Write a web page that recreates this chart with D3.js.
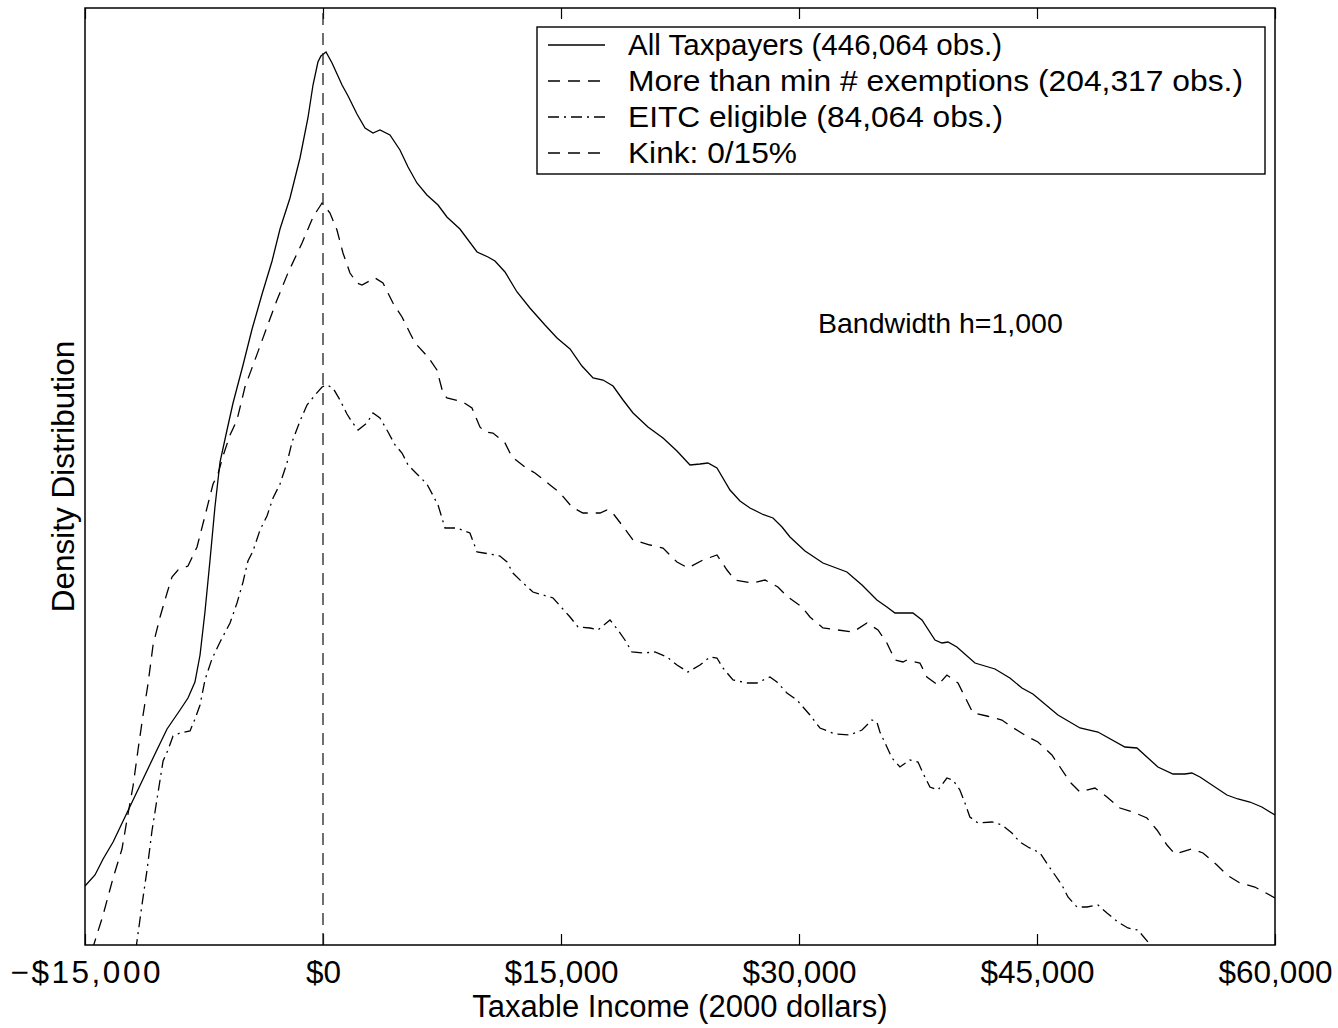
<!DOCTYPE html>
<html>
<head>
<meta charset="utf-8">
<script src="https://cdn.jsdelivr.net/npm/d3@7"></script>
<style>
  html, body { margin: 0; padding: 0; background: #fff; }
  svg { display: block; font-family: "Liberation Sans", Arial, Helvetica, sans-serif; }
</style>
</head>
<body>
<svg id="chart" width="1338" height="1028"></svg>
<script>
// ---- DATA (income in thousands of 2000 dollars, density in relative units) ----
const allIncome = [-15.0,-14.37,-13.86,-13.23,-12.60,-11.97,-11.34,-10.59,-9.83,-9.01,-8.51,-8.07,-7.75,-7.44,-7.12,-6.81,-6.49,-6.05,-5.67,-5.04,-4.47,-3.84,-3.21,-2.71,-2.08,-1.45,-0.95,-0.63,-0.32,-0.13,0.19,0.57,1.20,1.58,2.14,2.65,3.15,3.59,4.22,4.85,5.36,5.92,6.55,7.25,7.81,8.63,9.71,10.40,10.84,11.47,12.23,13.04,13.99,14.75,15.57,16.32,17.02,17.65,18.28,18.91,19.54,20.48,21.43,22.31,23.13,23.76,24.26,24.83,25.65,26.28,26.91,27.67,28.36,28.93,29.43,30.38,31.51,33.02,33.97,34.91,35.54,36.05,37.18,37.75,38.57,39.01,39.39,39.95,41.09,42.35,43.29,44.05,44.74,46.32,47.71,48.84,50.54,51.30,52.62,53.57,54.32,54.76,55.27,56.97,57.66,58.42,59.17,60.0];
const allDensity = [59,70,86,103,124,145,166,191,216,235,247,263,290,333,385,438,483,515,542,580,616,651,684,716,747,787,827,860,883,889,893,882,860,849,831,817,812,815,810,795,778,762,750,740,728,716,693,688,684,673,653,637,620,607,596,579,567,565,559,545,532,518,507,494,480,481,482,477,455,444,437,431,427,418,408,394,382,373,360,345,338,332,332,325,305,302,303,298,282,276,267,257,251,230,217,213,198,197,178,171,171,172,168,150,146,143,138,130];

const exIncome = [-14.55,-13.86,-13.23,-12.67,-12.29,-11.97,-11.66,-11.34,-11.03,-10.71,-10.27,-9.83,-9.52,-9.14,-8.51,-7.94,-7.44,-6.93,-6.62,-6.30,-5.86,-5.42,-4.92,-4.29,-3.53,-2.90,-2.21,-1.32,-0.63,-0.06,0.44,0.88,1.26,1.70,2.14,2.46,3.28,3.78,4.41,4.98,5.48,5.80,6.62,7.18,7.56,7.81,8.82,9.39,9.89,10.21,10.71,11.47,11.91,12.73,13.36,14.31,14.94,15.69,16.38,17.46,17.90,18.21,18.84,19.54,20.61,21.43,22.31,23.00,23.95,24.83,25.46,25.96,27.04,27.86,28.67,29.30,30.19,30.69,31.51,32.46,33.40,34.28,34.98,35.54,36.05,36.55,36.80,37.62,38.06,38.76,39.32,40.02,40.46,40.96,41.84,42.79,43.42,44.43,45.06,45.94,46.45,47.08,47.71,48.65,49.41,50.23,51.05,51.93,52.56,53.19,53.69,54.76,55.46,56.34,56.97,57.79,58.73,60.0];
const exDensity = [-5,30,67,96,131,159,195,230,261,300,328,352,368,375,379,398,429,461,471,489,510,525,558,585,618,645,672,702,728,742,732,715,692,672,662,660,667,662,642,628,612,602,588,575,552,547,543,537,518,513,512,502,488,478,472,460,452,438,432,432,435,433,420,405,400,397,383,377,385,390,375,365,362,365,358,348,338,328,317,315,313,322,315,302,285,283,285,282,268,260,270,262,248,232,229,225,218,208,203,190,178,163,153,157,148,137,133,127,115,100,91,96,92,80,70,62,58,47];

const eitcIncome = [-11.80,-11.41,-11.09,-10.78,-10.40,-10.08,-9.77,-9.45,-9.01,-8.38,-8.07,-7.75,-7.44,-7.00,-6.49,-5.86,-5.42,-5.04,-4.73,-4.41,-3.97,-3.53,-3.15,-2.71,-2.27,-1.95,-1.45,-1.01,-0.50,-0.06,0.25,0.63,1.07,1.51,1.83,2.21,2.77,3.15,3.59,4.10,4.54,4.98,5.36,5.92,6.55,7.25,7.69,8.44,9.26,9.71,10.52,11.15,11.60,11.97,12.54,13.23,13.86,14.50,15.06,15.57,16.07,16.83,17.33,18.09,18.59,19.03,19.47,20.17,20.92,21.68,22.31,23.00,23.76,24.39,24.83,25.21,25.84,26.72,27.35,28.17,28.61,29.24,29.87,30.69,31.32,32.27,33.21,33.97,34.60,34.91,35.10,35.54,35.86,36.36,36.99,37.50,37.81,38.25,38.76,39.32,39.70,40.14,40.46,40.77,41.28,42.16,42.79,43.42,43.92,44.43,45.19,45.69,46.13,46.57,46.95,47.52,48.15,48.84,49.41,50.10,50.73,51.36,51.99,52.30];
const eitcDensity = [-5,40,75,114,152,184,195,209,212,214,226,240,265,286,303,322,342,363,384,394,415,429,447,461,482,503,524,540,550,558,560,557,545,531,523,515,522,532,527,513,500,492,480,471,461,440,417,417,412,393,391,389,383,372,363,353,350,347,337,328,318,317,315,325,315,305,293,292,293,288,280,273,280,288,287,277,265,262,262,268,263,252,245,230,217,211,210,215,225,223,213,198,187,178,185,183,172,158,155,167,165,155,142,128,122,123,120,112,103,98,92,80,70,60,48,38,38,40,32,23,17,15,3,-5];

const kinkIncome = 0;
const xTicks = [-15, 0, 15, 30, 45, 60];
const legendLabels = ["All Taxpayers (446,064 obs.)", "More than min # exemptions (204,317 obs.)", "EITC eligible (84,064 obs.)", "Kink: 0/15%"];
const annotation = "Bandwidth h=1,000";
const xTitle = "Taxable Income (2000 dollars)";
const yTitle = "Density Distribution";

// ---- LAYOUT ----
const L = 85, R = 1275, T = 8, B = 945;
const svg = d3.select("#chart");
const x = d3.scaleLinear().domain([-15, 60]).range([L, R]);
const y = d3.scaleLinear().domain([0, 937]).range([B, T]);

const FS_TICK = 31.5, FS_TITLE = 31, FS_LEG = 30;

svg.append("defs").append("clipPath").attr("id", "plotclip")
  .append("rect").attr("x", L).attr("y", T).attr("width", R - L).attr("height", B - T);

const fmt = d => d === 0 ? "$0" : (d < 0 ? "\u2212$" : "$") + d3.format(",")(Math.abs(d) * 1000);

// bottom axis (ticks inward, labels below)
const gx = svg.append("g").attr("transform", `translate(0,${B})`)
  .call(d3.axisBottom(x).tickValues(xTicks).tickFormat(fmt).tickSizeInner(-11).tickSizeOuter(0).tickPadding(17));
gx.select(".domain").remove();
gx.selectAll(".tick line").attr("stroke", "#000").attr("stroke-width", 1.2);
gx.selectAll(".tick text").attr("font-size", FS_TICK).attr("fill", "#000")
  .attr("font-family", "'Liberation Sans', Arial, sans-serif")
  .attr("y", 38).attr("dy", 0)
  .each(function(d) { if (d < 0) d3.select(this).attr("textLength", 150).attr("lengthAdjust", "spacing"); });

// top axis (ticks inward, no labels)
const gt = svg.append("g").attr("transform", `translate(0,${T})`)
  .call(d3.axisTop(x).tickValues(xTicks).tickFormat("").tickSizeInner(-11).tickSizeOuter(0));
gt.select(".domain").remove();
gt.selectAll(".tick line").attr("stroke", "#000").attr("stroke-width", 1.2);

// lines
const plot = svg.append("g").attr("clip-path", "url(#plotclip)");
const line = d3.line().x(d => x(d[0])).y(d => y(d[1]));
const zip = (a, b) => a.map((v, i) => [v, b[i]]);

plot.append("path").datum(zip(allIncome, allDensity)).attr("d", line)
  .attr("fill", "none").attr("stroke", "#000").attr("stroke-width", 1.3);
plot.append("path").datum(zip(exIncome, exDensity)).attr("d", line)
  .attr("fill", "none").attr("stroke", "#000").attr("stroke-width", 1.3).attr("stroke-dasharray", "12,8");
plot.append("path").datum(zip(eitcIncome, eitcDensity)).attr("d", line)
  .attr("fill", "none").attr("stroke", "#000").attr("stroke-width", 1.3).attr("stroke-dasharray", "11,5,2,5");
plot.append("line").attr("x1", x(kinkIncome)).attr("x2", x(kinkIncome)).attr("y1", B).attr("y2", T)
  .attr("stroke", "#222").attr("stroke-width", 1.3).attr("stroke-dasharray", "12,8");

// frame
svg.append("rect").attr("x", L).attr("y", T).attr("width", R - L).attr("height", B - T)
  .attr("fill", "none").attr("stroke", "#000").attr("stroke-width", 1.5);

// annotation
svg.append("text").attr("x", 818).attr("y", 333).attr("font-size", 28.5).text(annotation);

// axis titles
svg.append("text").attr("x", 680).attr("y", 1017).attr("text-anchor", "middle")
  .attr("font-size", FS_TITLE).text(xTitle);
svg.append("text").attr("transform", `translate(74,${(T + B) / 2}) rotate(-90)`).attr("text-anchor", "middle")
  .attr("font-size", 31.5).text(yTitle);

// legend
const lg = svg.append("g");
lg.append("rect").attr("x", 537).attr("y", 27).attr("width", 728).attr("height", 147)
  .attr("fill", "#fff").attr("stroke", "#000").attr("stroke-width", 1.4);
const dashes = [null, "12,8", "11,5,2,5", "12,8"];
const legWidths = [374, 615, 375, 169];
legendLabels.forEach((lab, i) => {
  const by = 55 + i * 36;
  lg.append("line").attr("x1", 548).attr("x2", 605).attr("y1", by - 10).attr("y2", by - 10)
    .attr("stroke", "#000").attr("stroke-width", 1.3).attr("stroke-dasharray", dashes[i]);
  lg.append("text").attr("x", 628).attr("y", by).attr("font-size", FS_LEG)
    .attr("textLength", legWidths[i]).attr("lengthAdjust", "spacingAndGlyphs").text(lab);
});
</script>
</body>
</html>
